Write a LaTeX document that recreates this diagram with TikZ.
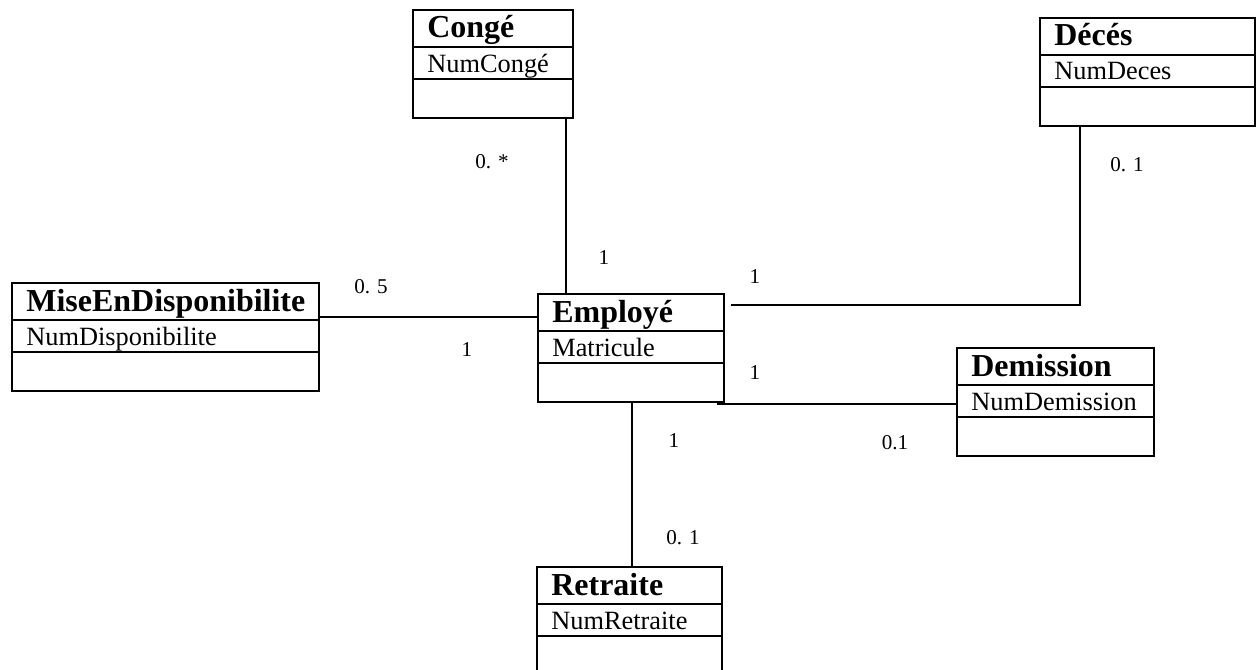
\documentclass[tikz,border=0pt]{standalone}
\usepackage{fontspec}
\setmainfont{Liberation Serif}
\usetikzlibrary{calc}

\tikzset{
  classbox/.style={draw,line width=1pt,inner sep=0pt,minimum height=2.16cm},
  classline/.style={line width=1pt},
  classtitle/.style={inner sep=0pt,font=\fontsize{18.2}{20}\selectfont\bfseries},
  classattr/.style={inner sep=0pt,font=\fontsize{15}{18}\selectfont},
  assoc/.style={line width=1.3pt},
  mult/.style={inner sep=0pt,font=\fontsize{12}{14}\selectfont}
}

% #1 name, #2 top left corner, #3 width, #4 class name, #5 attribute
\newcommand{\umlclass}[5]{%
  \node[classbox,minimum width=#3*0.02cm,anchor=north west] (#1) at (#2) {};
  \draw[classline] ($(#1.north west)+(0,38)$) -- ($(#1.north east)+(0,38)$);
  \draw[classline] ($(#1.north west)+(0,70)$) -- ($(#1.north east)+(0,70)$);
  \node[classtitle,anchor=base west] (#1-name) at ($(#1.north west)+(15,29)$) {#4};
  \node[classattr,anchor=base west] (#1-attr) at ($(#1.north west)+(15,63)$) {#5};
}

\begin{document}
\begin{tikzpicture}[x=0.02cm,y=-0.02cm]
\useasboundingbox (0,0) rectangle (1256,669);
\clip (0,0) rectangle (1256,669);

\umlclass{conge}{412,9}{160}{Congé}{NumCongé}
\umlclass{deces}{1039,17}{215}{Décés}{NumDeces}
\umlclass{mise}{11,282}{307}{MiseEnDisponibilite}{NumDisponibilite}
\umlclass{emp}{537,293}{186}{Employé}{Matricule}
\umlclass{dem}{956,347}{197}{Demission}{NumDemission}
\umlclass{ret}{536,566}{185}{Retraite}{NumRetraite}

% associations
\coordinate (c1) at ($(emp.north west)+(29,0)$);
\draw[assoc] (c1) -- (c1 |- conge.south);
\coordinate (m1) at ($(mise.north east)+(0,35)$);
\draw[assoc] (m1) -- (m1 -| emp.west);
\coordinate (d1) at ($(emp.north east)+(6,12)$);
\coordinate (d2) at ($(deces.south west)+(41,0)$);
\draw[assoc] (d1) -- (d1 -| d2) -- (d2);
\coordinate (e1) at ($(emp.south east)+(-8,1)$);
\draw[assoc] (e1) -- (e1 -| dem.west);
\coordinate (r1) at ($(emp.south west)+(95,0)$);
\draw[assoc] (r1) -- (r1 |- ret.north);

% multiplicities
\node[mult] (m-conge) at (492,162) {0. *};
\node[mult] (m-emp-conge) at (604,258) {1};
\node[mult] (m-mise) at (371,287) {0. 5};
\node[mult] (m-emp-mise) at (467,350) {1};
\node[mult] (m-emp-deces) at (755,277) {1};
\node[mult] (m-deces) at (1127,165) {0. 1};
\node[mult] (m-emp-dem) at (755,373) {1};
\node[mult] (m-dem) at (895,443) {0.1};
\node[mult] (m-emp-ret) at (674,441) {1};
\node[mult] (m-ret) at (683,538) {0. 1};
\end{tikzpicture}
\end{document}
